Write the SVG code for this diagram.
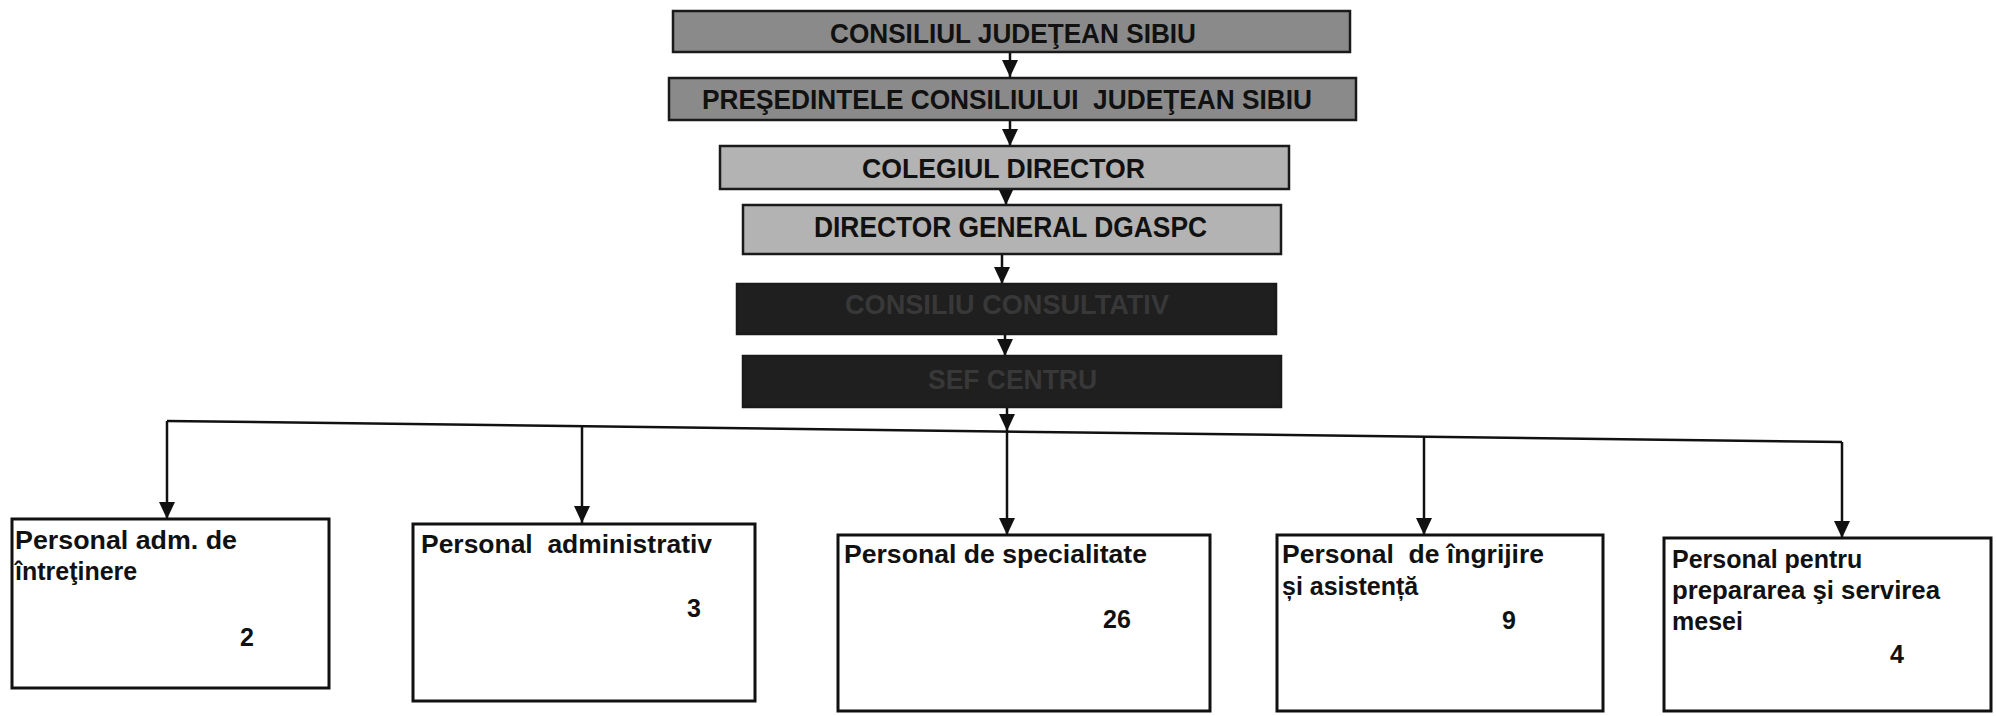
<svg xmlns="http://www.w3.org/2000/svg" width="1996" height="716" viewBox="0 0 1996 716">
<style>
.top{stroke:#1a1a1a;stroke-width:2.5}
.g1{fill:#8a8a8a}
.g2{fill:#b3b3b3}
.g3{fill:#1f1f1f}
.tt{font-family:"Liberation Sans",Arial,sans-serif;font-weight:bold;fill:#111;text-anchor:start}
.td{fill:#383838}
.box{fill:#fff;stroke:#111;stroke-width:3}
.bt{font-family:"Liberation Sans",Arial,sans-serif;font-weight:bold;font-size:25px;fill:#111;white-space:pre}
.num{text-anchor:middle}
.con{stroke:#111;stroke-width:2.5;fill:none}
</style>
<defs>
<marker id="ah" markerWidth="17" markerHeight="16" refX="17" refY="8" orient="auto" markerUnits="userSpaceOnUse">
<path d="M0,0 L17,8 L0,16 Z" fill="#111"/>
</marker>
</defs>
<rect width="1996" height="716" fill="#fff"/>

<g id="connectors">
<line class="con" x1="1010" y1="52" x2="1010" y2="77" marker-end="url(#ah)"/>
<line class="con" x1="1010" y1="120" x2="1010" y2="146" marker-end="url(#ah)"/>
<line class="con" x1="1006" y1="189" x2="1006" y2="205" marker-end="url(#ah)"/>
<line class="con" x1="1002" y1="254" x2="1002" y2="284" marker-end="url(#ah)"/>
<line class="con" x1="1005" y1="334" x2="1005" y2="356" marker-end="url(#ah)"/>
<line class="con" x1="1007" y1="407" x2="1007" y2="431" marker-end="url(#ah)"/>
<line class="con" x1="167" y1="421" x2="1842" y2="442"/>
<line class="con" x1="167" y1="421" x2="167" y2="519" marker-end="url(#ah)"/>
<line class="con" x1="582" y1="426" x2="582" y2="523" marker-end="url(#ah)"/>
<line class="con" x1="1007" y1="431" x2="1007" y2="535" marker-end="url(#ah)"/>
<line class="con" x1="1424" y1="437" x2="1424" y2="535" marker-end="url(#ah)"/>
<line class="con" x1="1842" y1="442" x2="1842" y2="538" marker-end="url(#ah)"/>
</g>

<g id="consiliul-judetean">
<rect class="top g1" x="673" y="11" width="677" height="41"/>
<text class="tt" x="830" y="43" font-size="28" textLength="366" lengthAdjust="spacingAndGlyphs">CONSILIUL JUDEŢEAN SIBIU</text>
</g>
<g id="presedinte">
<rect class="top g1" x="669" y="78" width="687" height="42"/>
<text class="tt" x="702" y="109" font-size="27" textLength="610" lengthAdjust="spacingAndGlyphs" style="white-space:pre">PREŞEDINTELE CONSILIULUI  JUDEŢEAN SIBIU</text>
</g>
<g id="colegiul-director">
<rect class="top g2" x="720" y="146" width="569" height="43"/>
<text class="tt" x="862" y="178" font-size="28" textLength="283" lengthAdjust="spacingAndGlyphs">COLEGIUL DIRECTOR</text>
</g>
<g id="director-general">
<rect class="top g2" x="743" y="205" width="538" height="49"/>
<text class="tt" x="814" y="237" font-size="29" textLength="393" lengthAdjust="spacingAndGlyphs">DIRECTOR GENERAL DGASPC</text>
</g>
<g id="consiliu-consultativ">
<rect class="top g3" x="737" y="284" width="539" height="50"/>
<text class="tt td" x="845" y="314" font-size="27" textLength="324" lengthAdjust="spacingAndGlyphs">CONSILIU CONSULTATIV</text>
</g>
<g id="sef-centru">
<rect class="top g3" x="743" y="356" width="538" height="51"/>
<text class="tt td" x="928" y="389" font-size="28" textLength="169" lengthAdjust="spacingAndGlyphs">SEF CENTRU</text>
</g>

<g id="personal-intretinere">
<rect class="box" x="12" y="519" width="317" height="169"/>
<text class="bt" x="15" y="549" textLength="222" lengthAdjust="spacingAndGlyphs">Personal adm. de</text>
<text class="bt" x="15" y="580">întreţinere</text>
<text class="bt num" x="247" y="646">2</text>
</g>
<g id="personal-administrativ">
<rect class="box" x="413" y="524" width="342" height="177"/>
<text class="bt" x="421" y="553" textLength="291" lengthAdjust="spacingAndGlyphs">Personal  administrativ</text>
<text class="bt num" x="694" y="617">3</text>
</g>
<g id="personal-specialitate">
<rect class="box" x="838" y="535" width="372" height="176"/>
<text class="bt" x="844" y="563" textLength="303" lengthAdjust="spacingAndGlyphs">Personal de specialitate</text>
<text class="bt num" x="1117" y="628">26</text>
</g>
<g id="personal-ingrijire">
<rect class="box" x="1277" y="535" width="326" height="176"/>
<text class="bt" x="1282" y="563" textLength="262" lengthAdjust="spacingAndGlyphs">Personal  de îngrijire</text>
<text class="bt" x="1282" y="595">și asistență</text>
<text class="bt num" x="1509" y="629">9</text>
</g>
<g id="personal-preparare">
<rect class="box" x="1664" y="538" width="327" height="173"/>
<text class="bt" x="1672" y="568">Personal pentru</text>
<text class="bt" x="1672" y="599" textLength="268" lengthAdjust="spacingAndGlyphs">prepararea şi servirea</text>
<text class="bt" x="1672" y="630">mesei</text>
<text class="bt num" x="1897" y="663">4</text>
</g>
</svg>
